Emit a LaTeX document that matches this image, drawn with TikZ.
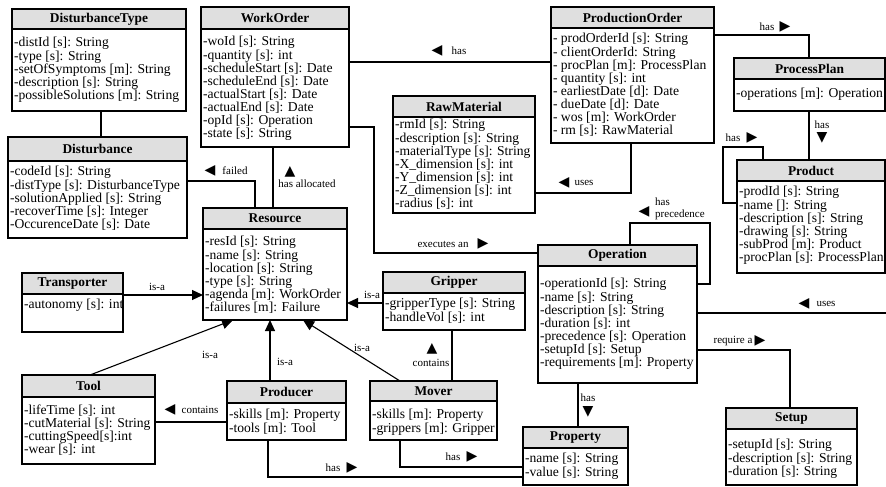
\documentclass[tikz,border=0pt]{standalone}
\usepackage{fontspec}
\setmainfont{Liberation Serif}
\newfontfamily\symfont{DejaVu Sans}
\usetikzlibrary{arrows.meta}
\tikzset{
 umlbox/.style={draw, line width=1.2pt, fill=white, rectangle, inner sep=0pt, outer sep=0pt, anchor=north west},
 umlhead/.style={draw, line width=1.2pt, fill=gray!25, rectangle, inner sep=0pt, outer sep=0pt, anchor=north west, font=\fontsize{13.4}{13.4}\selectfont\bfseries},
 umlbody/.style={anchor=north west, align=left, inner sep=0pt, outer sep=0pt, font=\fontsize{13.6}{13.1}\selectfont},
 conn/.style={line width=1.1pt},
 isa/.style={conn, -{Triangle[length=11pt,width=10pt]}},
 lbl/.style={font=\fontsize{11}{11.5}\selectfont, inner sep=0pt},
 tri/.style={font=\symfont\fontsize{14}{14}\selectfont, inner sep=0pt},
}
\newcommand\umlclass[9]{%
 \node[umlbox, minimum width={#4pt-#2pt}, minimum height={#6pt-#3pt}] (#1) at (#2,#3) {};
 \node[umlhead, minimum width={#4pt-#2pt}, minimum height={#5pt-#3pt}] (#1-h) at (#2,#3) {#8};
 \node[umlbody] (#1-b) at (#2+2,#7-9.5) {#9};
}
\begin{document}
\begin{tikzpicture}[x=1pt,y=-1pt]
\fill[white] (0,0) rectangle (886,487);
\useasboundingbox (0,0) rectangle (886,487);

\umlclass{dt}{12}{9}{186}{29}{111}{47}{DisturbanceType}{-distId [s]: String\\-type [s]: String\\-setOfSymptoms [m]: String\\-description [s]: String\\-possibleSolutions [m]: String}
\umlclass{dist}{8}{137}{187}{161}{238}{176}{Disturbance}{-codeId [s]: String\\-distType [s]: DisturbanceType\\-solutionApplied [s]: String\\-recoverTime [s]: Integer\\-OccurenceDate [s]: Date}
\umlclass{wo}{201}{7}{349}{29}{147}{46}{WorkOrder}{-woId [s]: String\\-quantity [s]: int\\-scheduleStart [s]: Date\\-scheduleEnd [s]: Date\\-actualStart [s]: Date\\-actualEnd [s]: Date\\-opId [s]: Operation\\-state [s]: String}
\umlclass{po}{551}{7}{714}{28}{143}{43}{ProductionOrder}{- prodOrderId [s]: String\\- clientOrderId: String\\- procPlan [m]: ProcessPlan\\- quantity [s]: int\\- earliestDate [d]: Date\\- dueDate [d]: Date\\- wos [m]: WorkOrder\\- rm [s]: RawMaterial}
\umlclass{pp}{734}{58}{885}{79}{111}{98}{ProcessPlan}{-operations [m]: Operation}
\umlclass{rm}{393}{96}{535}{117}{213}{129}{RawMaterial}{-rmId [s]: String\\-description [s]: String\\-materialType [s]: String\\-X\_dimension [s]: int\\-Y\_dimension [s]: int\\-Z\_dimension [s]: int\\-radius [s]: int}
\umlclass{prd}{737}{160}{885}{181}{273}{196}{Product}{-prodId [s]: String\\-name []: String\\-description [s]: String\\-drawing [s]: String\\-subProd [m]: Product\\-procPlan [s]: ProcessPlan}
\umlclass{res}{203}{208}{347}{229}{320}{246}{Resource}{-resId [s]: String\\-name [s]: String\\-location [s]: String\\-type [s]: String\\-agenda [m]: WorkOrder\\-failures [m]: Failure}
\umlclass{op}{538}{245}{697}{266}{383}{288}{Operation}{-operationId [s]: String\\-name [s]: String\\-description [s]: String\\-duration [s]: int\\-precedence [s]: Operation\\-setupId [s]: Setup\\-requirements [m]: Property}
\umlclass{tr}{22}{273}{123}{294}{332}{309}{Transporter}{-autonomy [s]: int}
\umlclass{grip}{383}{272}{525}{293}{330}{308}{Gripper}{-gripperType [s]: String\\-handleVol [s]: int}
\umlclass{tool}{22}{375}{155}{397}{464}{414}{Tool}{-lifeTime [s]: int\\-cutMaterial [s]: String\\-cuttingSpeed[s]:int\\-wear [s]: int}
\umlclass{prod}{227}{381}{346}{403}{440}{419}{Producer}{-skills [m]: Property\\-tools [m]: Tool}
\umlclass{mov}{370}{381}{497}{401}{440}{419}{Mover}{-skills [m]: Property\\-grippers [m]: Gripper}
\umlclass{prop}{523}{427}{628}{448}{485}{463}{Property}{-name [s]: String\\-value [s]: String}
\umlclass{setup}{726}{408}{857}{429}{485}{449}{Setup}{-setupId [s]: String\\-description [s]: String\\-duration [s]: String}

% connectors
\draw[conn] (dt.south -| 101,0) -- (dist.north -| 101,0);
\draw[conn] (dist.east |- 0,181) -| (res.north -| 255,0);
\node[tri] (t1) at (210,171) {◀}; \node[lbl] (l1) at (235,171) {failed};
\draw[conn] (wo.south -| 273,0) -- (res.north -| 273,0);
\node[tri] (t2) at (290,172) {▲}; \node[lbl] (l2) at (307,184) {has allocated};
\draw[conn] (wo.east |- 0,62) -- (po.west |- 0,62);
\node[tri] (t3) at (437,51) {◀}; \node[lbl] (l3) at (459,51) {has};
\draw[conn] (wo.east |- 0,127) -- ++(25,0) |- (op.west |- 0,253);
\node[lbl] (l4) at (443,244) {executes an}; \node[tri] (t4) at (483,244) {▶};
\draw[conn] (po.south -| 631,0) |- (rm.east |- 0,193);
\node[tri] (t5) at (564,183) {◀}; \node[lbl] (l5) at (584,183) {uses};
\draw[conn] (po.east |- 0,35) -| (pp.north -| 809,0);
\node[lbl] (l6) at (767,27) {has}; \node[tri] (t6) at (785,27) {▶};
\draw[conn] (pp.south -| 809,0) -- (prd.north -| 809,0);
\node[lbl] (l7) at (822,125) {has}; \node[tri] (t7) at (822,138) {▼};
\draw[conn] (prd.north -| 763,0) |- (723,147) |- (prd.west |- 0,203);
\node[lbl] (l8) at (733,138) {has}; \node[tri] (t8) at (752,138) {▶};
\draw[conn] (op.north -| 630,0) |- (710,223) |- (op.east |- 0,284);
\node[tri] (t9) at (644,212) {◀}; \node[lbl, anchor=west, align=left] (l9) at (655,209) {has\\precedence};
\coordinate (usesend) at (886,313);
\draw[conn] (op.east |- 0,313) -- (usesend);
\node[tri] (t10) at (804,304) {◀}; \node[lbl] (l10) at (826,304) {uses};
\draw[conn] (op.east |- 0,350) -| (setup.north -| 790,0);
\node[lbl] (l11) at (733,341) {require a}; \node[tri] (t11) at (760,341) {▶};
\draw[conn] (op.south -| 578,0) -- (prop.north -| 578,0);
\node[lbl] (l12) at (588,398) {has}; \node[tri] (t12) at (588,412) {▼};
\draw[conn] (mov.south -| 400,0) |- (prop.west |- 0,467);
\node[lbl] (l13) at (453,457) {has}; \node[tri] (t13) at (472,457) {▶};
\draw[conn] (prod.south -| 268,0) |- (prop.west |- 0,477);
\node[lbl] (l14) at (333,468) {has}; \node[tri] (t14) at (352,468) {▶};
\draw[conn] (grip.south -| 452,0) -- (mov.north -| 452,0);
\node[tri] (t15) at (432,349) {▲}; \node[lbl] (l15) at (431,363) {contains};
\draw[conn] (prod.west |- 0,422) -- (tool.east |- 0,422);
\node[tri] (t16) at (170,410) {◀}; \node[lbl] (l16) at (200,410) {contains};

% is-a
\draw[isa] (tr.east |- 0,295) -- (res.west |- 0,295);
\node[lbl] (i1) at (157,287) {is-a};
\draw[isa] (tool.north -| 90,0) -- (res.south -| 233,0);
\node[lbl] (i2) at (210,355) {is-a};
\draw[isa] (prod.north -| 270,0) -- (res.south -| 270,0);
\node[lbl] (i3) at (285,362) {is-a};
\draw[isa] (mov.north -| 400,0) -- (res.south -| 303,0);
\node[lbl] (i4) at (362,348) {is-a};
\draw[isa] (grip.west |- 0,303) -- (res.east |- 0,303);
\node[lbl] (i5) at (372,295) {is-a};
\end{tikzpicture}
\end{document}
